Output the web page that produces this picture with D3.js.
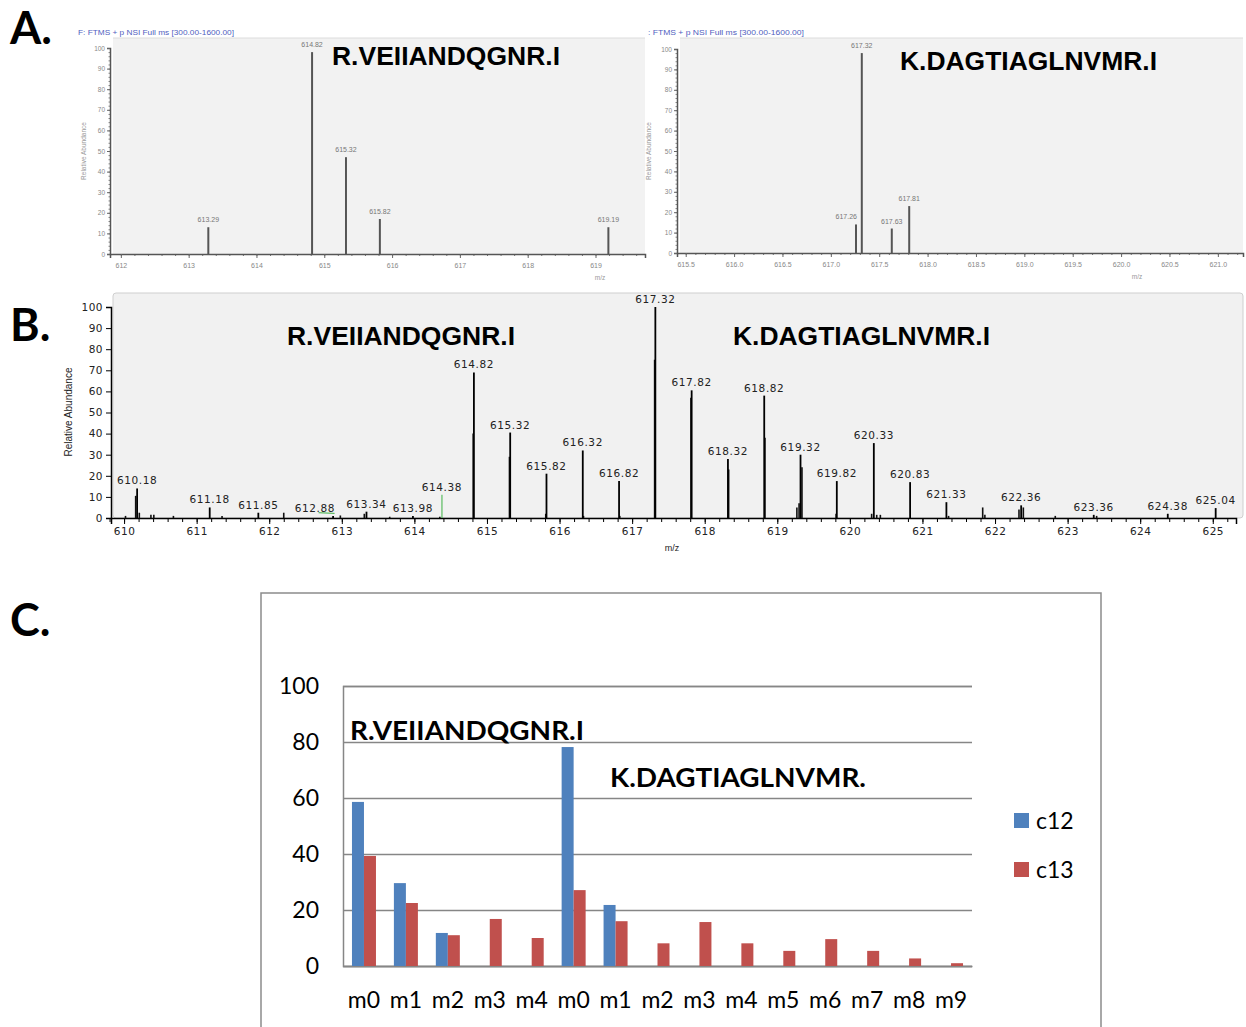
<!DOCTYPE html>
<html>
<head>
<meta charset="utf-8">
<script src="https://cdn.jsdelivr.net/npm/d3@7"></script>
<style>
body { margin: 0; background: #fff; }
</style>
</head>
<body>
<svg id="fig" width="1246" height="1027"></svg>
<script>
// ---- panel A : two raw spectra ----
const aLeftMz = [613.29, 614.82, 615.32, 615.82, 619.19];
const aLeftAb = [13, 98, 47, 17, 13];
const aLeftTicks = [612, 613, 614, 615, 616, 617, 618, 619];

const aRightMz = [617.26, 617.32, 617.63, 617.81];
const aRightAb = [14, 98, 12, 23];
const aRightTicks = [615.5, 616.0, 616.5, 617.0, 617.5, 618.0, 618.5, 619.0, 619.5, 620.0, 620.5, 621.0];

// ---- panel B : merged spectrum ----
const bLabelMz = [610.18, 611.18, 611.85, 612.88, 613.34, 613.98, 614.82, 615.32, 615.82, 616.32,
  616.82, 617.32, 617.82, 618.32, 618.82, 619.32, 619.82, 620.33, 620.83, 621.33, 622.36, 623.36, 624.38, 625.04];
const bLabelAb = [14, 5, 2.5, 1, 3, 1, 69, 40.5, 21, 32, 17.5, 100, 60.5, 28, 58, 30, 17.5, 35.5, 17, 7.5, 6, 1.5, 2, 4.7];
const bMinorMz = [610.02, 610.16, 610.21, 610.37, 610.41, 610.68, 611.35, 612.2, 612.98, 613.31, 613.66, 614.35,
  614.81, 615.31, 615.81, 616.33, 616.83, 617.31, 617.81, 618.33, 618.83, 619.27, 619.3, 619.34, 619.81,
  620.3, 620.37, 620.42, 621.36, 621.83, 621.86, 622.33, 622.39, 622.83, 623.4];
const bMinorAb = [1, 10.5, 2.5, 1.5, 1.5, 1, 1, 2.5, 1.2, 2, 0.6, 0.6,
  40, 29, 2, 1, 1, 75, 57, 23, 38, 5, 7, 24, 2,
  2, 1.5, 1.5, 1, 5, 1.5, 4, 5, 1, 1];
const bGreenMz = [614.38];
const bGreenAb = [11];
const bTicks = d3.range(610, 626);

// ---- panel C : isotopologue bars ----
const cCategories = ["m0", "m1", "m2", "m3", "m4", "m0", "m1", "m2", "m3", "m4", "m5", "m6", "m7", "m8", "m9"];
const c12 = [58.6, 29.6, 11.8, null, null, 78.2, 21.8, null, null, null, null, null, null, null, null];
const c13 = [39.3, 22.5, 11, 16.8, 10, 27.1, 16, 8.1, 15.7, 8.1, 5.4, 9.6, 5.4, 2.7, 1.0];
const cTicks = [0, 20, 40, 60, 80, 100];
const cSeries = ["c12", "c13"];
const cColors = ["#4f81bd", "#c0504d"];

const svg = d3.select("#fig");

// panel letters
svg.selectAll("text.letter")
  .data([["A.", 10, 44], ["B.", 10, 341], ["C.", 10, 636]])
  .enter().append("text")
  .attr("class", "letter")
  .attr("x", d => d[1]).attr("y", d => d[2])
  .attr("font-family", "Lato, 'Open Sans', sans-serif")
  .attr("font-weight", "bold")
  .attr("font-size", 45)
  .text(d => d[0]);

function spectrumA(o) {
  let x = d3.scaleLinear().domain(o.dom).range([o.left, o.right]);
  let y = d3.scaleLinear().domain([0, 100]).range([o.bottom, o.top]);
  let g = svg.append("g");

  g.append("rect")
    .attr("x", o.left + 3).attr("y", o.bgTop)
    .attr("width", o.right - o.left - 3).attr("height", o.bottom - o.bgTop)
    .attr("fill", "#f2f2f2");
  g.append("line")
    .attr("x1", o.left + 3).attr("x2", o.right)
    .attr("y1", o.bgTop).attr("y2", o.bgTop)
    .attr("stroke", "#dcdcdc");

  // minor ticks
  g.append("g")
    .attr("transform", "translate(0," + o.bottom + ")")
    .call(d3.axisBottom(x).tickValues(d3.range(Math.ceil(o.dom[0] / o.minor) * o.minor, o.dom[1], o.minor)).tickSize(2).tickFormat(""))
    .call(a => a.select(".domain").remove())
    .call(a => a.selectAll("line").attr("stroke", "#777"));
  g.append("g")
    .attr("transform", "translate(0," + o.bottom + ")")
    .call(d3.axisBottom(x).tickValues(o.ticks).tickSize(4).tickPadding(5)
      .tickFormat(o.fmt))
    .call(a => a.select(".domain").attr("stroke", "#555").attr("stroke-width", 1.5))
    .call(a => a.selectAll("line").attr("stroke", "#666"))
    .call(a => a.selectAll("text").attr("fill", "#888").attr("font-size", 7).attr("font-family", "Arial, sans-serif"));

  g.append("g")
    .attr("transform", "translate(" + o.left + ",0)")
    .call(d3.axisLeft(y).tickValues(d3.range(0, 101, 2)).tickSize(1.5).tickFormat(""))
    .call(a => a.select(".domain").remove())
    .call(a => a.selectAll("line").attr("stroke", "#888"));
  g.append("g")
    .attr("transform", "translate(" + o.left + ",0)")
    .call(d3.axisLeft(y).tickValues(d3.range(0, 101, 10)).tickSize(3).tickPadding(2))
    .call(a => a.select(".domain").attr("stroke", "#555").attr("stroke-width", 1.5))
    .call(a => a.selectAll("line").attr("stroke", "#666"))
    .call(a => a.selectAll("text").attr("fill", "#888").attr("font-size", 6.5).attr("font-family", "Arial, sans-serif"));

  let peaks = o.mz.map((m, i) => ({ mz: m, ab: o.ab[i] }));
  // a label whose neighbour sits right next to it on the right is pushed left
  let crowded = d => peaks.some(p => p.mz > d.mz && p.mz - d.mz < 0.1);
  g.selectAll("line.pk").data(peaks).enter().append("line")
    .attr("x1", d => x(d.mz)).attr("x2", d => x(d.mz))
    .attr("y1", y(0)).attr("y2", d => y(d.ab))
    .attr("stroke", "#555").attr("stroke-width", 2);
  g.selectAll("text.pk").data(peaks).enter().append("text")
    .attr("x", d => crowded(d) ? x(d.mz) + 1 : x(d.mz))
    .attr("y", d => y(d.ab) - 5)
    .attr("text-anchor", d => crowded(d) ? "end" : "middle")
    .attr("font-size", 7).attr("font-family", "Arial, sans-serif").attr("fill", "#777")
    .text(d => d.mz.toFixed(2));

  g.append("text")
    .attr("transform", "translate(" + o.ylabX + "," + ((o.top + o.bottom) / 2) + ") rotate(-90)")
    .attr("text-anchor", "middle")
    .attr("font-size", 6.5).attr("font-family", "Arial, sans-serif").attr("fill", "#999")
    .text("Relative Abundance");
  g.append("text")
    .attr("x", o.mzX).attr("y", o.bottom + 26)
    .attr("text-anchor", "middle")
    .attr("font-size", 6.5).attr("font-family", "Arial, sans-serif").attr("fill", "#999")
    .text("m/z");
  g.append("text")
    .attr("x", o.headX).attr("y", 35)
    .attr("font-size", 6.5).attr("font-family", "Arial, sans-serif").attr("fill", "#5060c0")
    .attr("textLength", 156).attr("lengthAdjust", "spacingAndGlyphs")
    .text(o.head);
  g.append("text")
    .attr("x", o.titleX).attr("y", o.titleY)
    .attr("font-size", 25).attr("font-weight", "bold").attr("font-family", "Arial, 'Liberation Sans', sans-serif")
    .attr("textLength", o.titleW).attr("lengthAdjust", "spacingAndGlyphs")
    .text(o.title);
}

spectrumA({
  dom: [611.84, 619.73], left: 110, right: 645, top: 48, bottom: 254, bgTop: 38,
  ticks: aLeftTicks, fmt: d3.format("d"), minor: 0.2, mz: aLeftMz, ab: aLeftAb,
  ylabX: 86, mzX: 600, headX: 78, head: "F: FTMS + p NSI Full ms [300.00-1600.00]",
  title: "R.VEIIANDQGNR.I", titleX: 332, titleY: 65, titleW: 228
});
spectrumA({
  dom: [615.41, 621.26], left: 677, right: 1243, top: 49, bottom: 253, bgTop: 38,
  ticks: aRightTicks, fmt: d3.format(".1f"), minor: 0.1, mz: aRightMz, ab: aRightAb,
  ylabX: 651, mzX: 1137, headX: 648, head: ": FTMS + p NSI Full ms [300.00-1600.00]",
  title: "K.DAGTIAGLNVMR.I", titleX: 900, titleY: 70, titleW: 257
});

// ---- panel B ----
(function () {
  let x = d3.scaleLinear().domain([609.82, 625.32]).range([111, 1236]);
  let y = d3.scaleLinear().domain([0, 100]).range([518, 307]);
  let g = svg.append("g");
  const font = "'DejaVu Sans', Verdana, sans-serif";

  g.append("rect")
    .attr("x", 113).attr("y", 293).attr("width", 1130).attr("height", 225)
    .attr("rx", 3)
    .attr("fill", "#f1f1f1").attr("stroke", "#cfcfcf");

  g.append("g")
    .attr("transform", "translate(0,518)")
    .call(d3.axisBottom(x).tickValues(d3.range(609.8, 625.3, 0.2)).tickSize(4).tickFormat(""))
    .call(a => a.select(".domain").remove())
    .call(a => a.selectAll("line").attr("stroke", "#000"));
  g.append("g")
    .attr("transform", "translate(0,518)")
    .call(d3.axisBottom(x).tickValues(bTicks).tickSize(6).tickPadding(4).tickFormat(d3.format("d")))
    .call(a => a.select(".domain").attr("stroke", "#000").attr("stroke-width", 1.5))
    .call(a => a.selectAll("line").attr("stroke", "#000"))
    .call(a => a.selectAll("text").attr("fill", "#222").attr("font-size", 10.5)
      .attr("letter-spacing", 0.5).attr("font-family", font));

  g.append("g")
    .attr("transform", "translate(111,0)")
    .call(d3.axisLeft(y).tickValues(d3.range(0, 101, 10)).tickSize(5).tickPadding(3))
    .call(a => a.select(".domain").attr("stroke", "#000").attr("stroke-width", 1.5))
    .call(a => a.selectAll("line").attr("stroke", "#000"))
    .call(a => a.selectAll("text").attr("fill", "#222").attr("font-size", 10.5)
      .attr("letter-spacing", 0.5).attr("font-family", font));

  let minor = bMinorMz.map((m, i) => ({ mz: m, ab: bMinorAb[i] }));
  g.selectAll("line.mn").data(minor).enter().append("line")
    .attr("x1", d => x(d.mz)).attr("x2", d => x(d.mz))
    .attr("y1", y(0)).attr("y2", d => y(d.ab))
    .attr("stroke", "#111").attr("stroke-width", 1.6);

  let green = bGreenMz.map((m, i) => ({ mz: m, ab: bGreenAb[i] }));
  g.selectAll("line.gr").data(green).enter().append("line")
    .attr("x1", d => x(d.mz)).attr("x2", d => x(d.mz))
    .attr("y1", y(0)).attr("y2", d => y(d.ab))
    .attr("stroke", "#3cb043").attr("stroke-width", 1);
  g.append("line")
    .attr("x1", x(612.68)).attr("x2", x(612.9))
    .attr("y1", y(2.5)).attr("y2", y(2.2))
    .attr("stroke", "#3cb043").attr("stroke-width", 1);

  let peaks = bLabelMz.map((m, i) => ({ mz: m, ab: bLabelAb[i] }));
  g.selectAll("line.pk").data(peaks).enter().append("line")
    .attr("x1", d => x(d.mz)).attr("x2", d => x(d.mz))
    .attr("y1", y(0)).attr("y2", d => y(d.ab))
    .attr("stroke", "#000").attr("stroke-width", 1.8);

  // labels: a low label with a low neighbour just to its right is set to the left of its peak
  let labels = peaks.concat(green);
  let ly = d => Math.min(y(d.ab) - 4, 512);
  let crowded = d => peaks.some(p => p.mz > d.mz && p.mz - d.mz < 0.55 && Math.abs(ly(p) - ly(d)) < 12);
  g.selectAll("text.pk").data(labels).enter().append("text")
    .attr("x", d => crowded(d) ? x(d.mz) + 2 : x(d.mz))
    .attr("y", ly)
    .attr("text-anchor", d => crowded(d) ? "end" : "middle")
    .attr("font-size", 10.5).attr("letter-spacing", 0.6).attr("font-family", font).attr("fill", "#222")
    .text(d => d.mz.toFixed(2));

  g.append("text")
    .attr("transform", "translate(72,412) rotate(-90)")
    .attr("text-anchor", "middle")
    .attr("font-size", 10).attr("font-family", "Arial, sans-serif").attr("fill", "#222")
    .text("Relative Abundance");
  g.append("text")
    .attr("x", 672).attr("y", 551)
    .attr("text-anchor", "middle")
    .attr("font-size", 9).attr("font-family", "Arial, sans-serif").attr("fill", "#222")
    .text("m/z");

  [["R.VEIIANDQGNR.I", 287, 228], ["K.DAGTIAGLNVMR.I", 733, 257]].forEach(t => {
    g.append("text")
      .attr("x", t[1]).attr("y", 345)
      .attr("font-size", 25).attr("font-weight", "bold").attr("font-family", "Arial, 'Liberation Sans', sans-serif")
      .attr("textLength", t[2]).attr("lengthAdjust", "spacingAndGlyphs")
      .text(t[0]);
  });
})();

// ---- panel C ----
(function () {
  let g = svg.append("g");
  const font = "Lato, 'Open Sans', sans-serif";

  g.append("path")
    .attr("d", "M261,1027 V593 H1101 V1027")
    .attr("fill", "none").attr("stroke", "#8c8c8c").attr("stroke-width", 1.5);

  let x = d3.scaleBand().domain(d3.range(cCategories.length)).range([343, 972]);
  let y = d3.scaleLinear().domain([0, 100]).range([966, 686]);

  g.append("g")
    .attr("transform", "translate(343,0)")
    .call(d3.axisLeft(y).tickValues(cTicks).tickSize(-629).tickPadding(24))
    .call(a => a.select(".domain").attr("stroke", "#868686").attr("stroke-width", 1.5))
    .call(a => a.selectAll("line").attr("stroke", "#868686").attr("stroke-width", 1.5))
    .call(a => a.selectAll("text").attr("fill", "#000").attr("font-size", 23).attr("font-family", font));

  g.append("g")
    .attr("transform", "translate(0,966)")
    .call(d3.axisBottom(x).tickSize(0).tickPadding(26).tickFormat(i => cCategories[i]))
    .call(a => a.select(".domain").attr("stroke", "#868686").attr("stroke-width", 1.5))
    .call(a => a.selectAll("text").attr("fill", "#000").attr("font-size", 23).attr("font-family", font));

  const bw = 12;
  [c12, c13].forEach((vals, s) => {
    g.selectAll("rect.s" + s)
      .data(vals.map((v, i) => ({ i: i, v: v })).filter(d => d.v != null))
      .enter().append("rect")
      .attr("x", d => x(d.i) + x.bandwidth() / 2 - bw + s * bw)
      .attr("y", d => y(d.v))
      .attr("width", bw)
      .attr("height", d => y(0) - y(d.v))
      .attr("fill", cColors[s]);
  });

  [["R.VEIIANDQGNR.I", 350, 740, 234], ["K.DAGTIAGLNVMR.", 610, 787, 256]].forEach(t => {
    g.append("text")
      .attr("x", t[1]).attr("y", t[2])
      .attr("font-size", 27).attr("font-weight", "bold").attr("font-family", font)
      .attr("textLength", t[3]).attr("lengthAdjust", "spacingAndGlyphs")
      .text(t[0]);
  });

  let lg = g.selectAll("g.lg").data(cSeries).enter().append("g")
    .attr("transform", (d, i) => "translate(1014," + (813 + i * 49) + ")");
  lg.append("rect").attr("width", 15).attr("height", 15).attr("fill", (d, i) => cColors[i]);
  lg.append("text")
    .attr("x", 22).attr("y", 16)
    .attr("font-size", 23).attr("font-family", font)
    .text(d => d);
})();
</script>
</body>
</html>
